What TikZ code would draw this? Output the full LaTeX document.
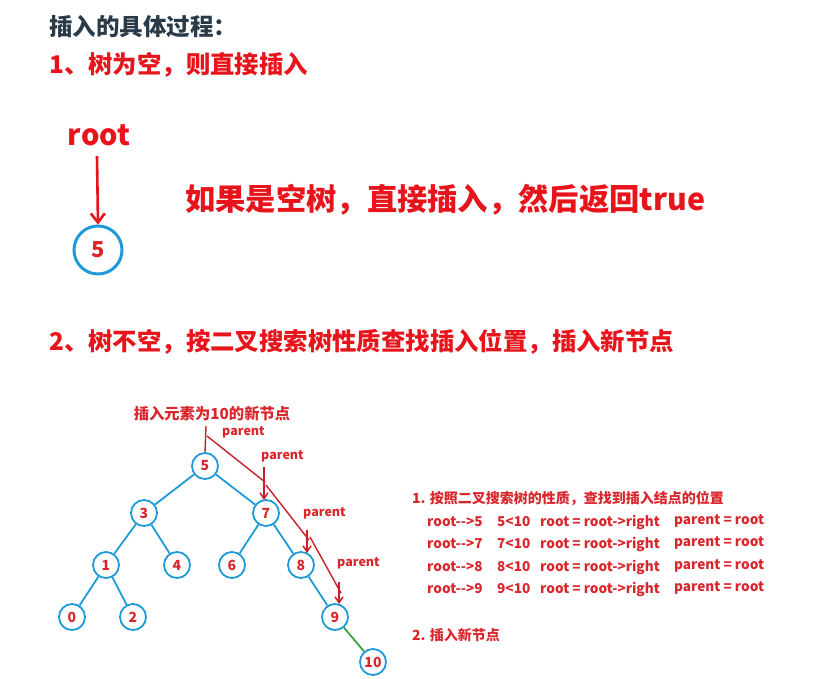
\documentclass[tikz,border=0pt]{standalone}
\usepackage{fontspec}
\setmainfont{Noto Sans CJK SC}
\usetikzlibrary{arrows.meta}
\definecolor{titlegray}{HTML}{2B3A48}
\definecolor{hred}{HTML}{E8141C}
\definecolor{tred}{HTML}{D8262C}
\definecolor{lred}{HTML}{C8202A}
\definecolor{nblue}{HTML}{1E9AD8}
\definecolor{egreen}{HTML}{3AA040}
\tikzset{
  x=1pt, y=-1pt,
  heading/.style={anchor=west, inner sep=0pt, font=\bfseries\fontsize{24.4}{26}\selectfont, text=hred},
  tnode/.style={circle, draw=nblue, line width=1.8pt, minimum size=26pt, inner sep=0pt, text=tred, font=\bfseries\fontsize{14}{15}\selectfont},
  tedge/.style={draw=nblue, line width=1.8pt},
  redline/.style={draw=lred, line width=1.4pt},
  redarrow/.style={draw=lred, line width=1.4pt, -{Straight Barb[length=6pt,width=8pt,line width=1.4pt]}},
  plabel/.style={anchor=west, inner sep=0pt, text=tred, font=\bfseries\fontsize{12.5}{14}\selectfont},
  rtext/.style={anchor=west, inner sep=0pt, text=tred, font=\bfseries\fontsize{13.6}{15}\selectfont},
}
\begin{document}
\begin{tikzpicture}
\useasboundingbox (0,0) rectangle (840,678);
% headings
\node[heading, text=titlegray, font=\bfseries\fontsize{23.5}{25}\selectfont] (title) at (49,27) {插入的具体过程：};
\node[heading] (h1) at (49,65) {1、树为空，则直接插入};
\node[heading] (h2) at (49,342) {2、树不空，按二叉搜索树性质查找插入位置，插入新节点};
% part 1
\node[inner sep=0pt, text=hred, font=\bfseries\fontsize{29}{31}\selectfont] (root) at (99,135) {root};
\node[circle, draw=nblue, line width=3pt, minimum size=48pt, inner sep=0pt, text=tred, font=\bfseries\fontsize{22}{24}\selectfont] (big5) at (98,250) {5};
\draw[draw=hred, line width=2.6pt, -{Straight Barb[length=9pt,width=14pt,line width=2.6pt]}] (97,156) -- (big5.north);
\node[anchor=west, inner sep=0pt, text=hred, font=\bfseries\fontsize{30.3}{32}\selectfont] (empty) at (185,200) {如果是空树，直接插入，然后返回true};
% tree
\node[tnode] (n5) at (205,466) {5};
\node[tnode] (n3) at (144,513) {3};
\node[tnode] (n7) at (266,513) {7};
\node[tnode] (n1) at (106,565) {1};
\node[tnode] (n4) at (177,565) {4};
\node[tnode] (n6) at (232,565) {6};
\node[tnode] (n8) at (301,565) {8};
\node[tnode] (n0) at (72,617) {0};
\node[tnode] (n2) at (133,617) {2};
\node[tnode] (n9) at (335,617) {9};
\node[tnode] (n10) at (373,662) {10};
\draw[tedge] (n5) -- (n3);
\draw[tedge] (n5) -- (n7);
\draw[tedge] (n3) -- (n1);
\draw[tedge] (n3) -- (n4);
\draw[tedge] (n7) -- (n6);
\draw[tedge] (n7) -- (n8);
\draw[tedge] (n1) -- (n0);
\draw[tedge] (n1) -- (n2);
\draw[tedge] (n8) -- (n9);
\draw[draw=egreen, line width=1.8pt] (n9) -- (n10);
% labels
\node[inner sep=0pt, text=tred, font=\bfseries\fontsize{15.3}{17}\selectfont] (newlbl) at (212,414) {插入元素为10的新节点};
\node[plabel] (p1) at (222,432) {parent};
\node[plabel] (p2) at (261,456) {parent};
\node[plabel] (p3) at (303,513) {parent};
\node[plabel] (p4) at (337,563) {parent};
% red path
\coordinate (a0) at (206,426);
\coordinate (a1) at (207,436);
\coordinate (b0) at (265,482);
\coordinate (b1) at (266,485);
\coordinate (c0) at (309,540);
\coordinate (c1) at (310,537);
\coordinate (d0) at (341,593);
\coordinate (s2) at (264,467);
\coordinate (s3) at (307,530);
\coordinate (s4) at (339,582);
\draw[redline] (a0) -- (n5.north);
\draw[redline] (a1) -- (b0);
\draw[redline] (b1) -- (c0);
\draw[redline] (c1) -- (d0);
\draw[redarrow] (s2) -- (264,500);
\draw[redarrow] (s3) -- (307,553);
\draw[redarrow] (s4) -- (339,604);
% right text
\node[rtext, font=\bfseries\fontsize{14}{16}\selectfont] (r0) at (412,498) {1. 按照二叉搜索树的性质，查找到插入结点的位置};
\foreach \i/\v/\y in {1/5/522, 2/7/544, 3/8/567, 4/9/589} {
  \node[rtext] (ra\i) at (427,\y) {root-{}-{}>\v};
  \node[rtext] (rb\i) at (497,\y) {\v<10};
  \node[rtext] (rc\i) at (540,\y) {root = root->right};
  \node[rtext] (rd\i) at (674,\y-1) {parent = root};
}
\node[rtext, font=\bfseries\fontsize{14}{16}\selectfont] (r5) at (412,635) {2. 插入新节点};
\end{tikzpicture}
\end{document}
